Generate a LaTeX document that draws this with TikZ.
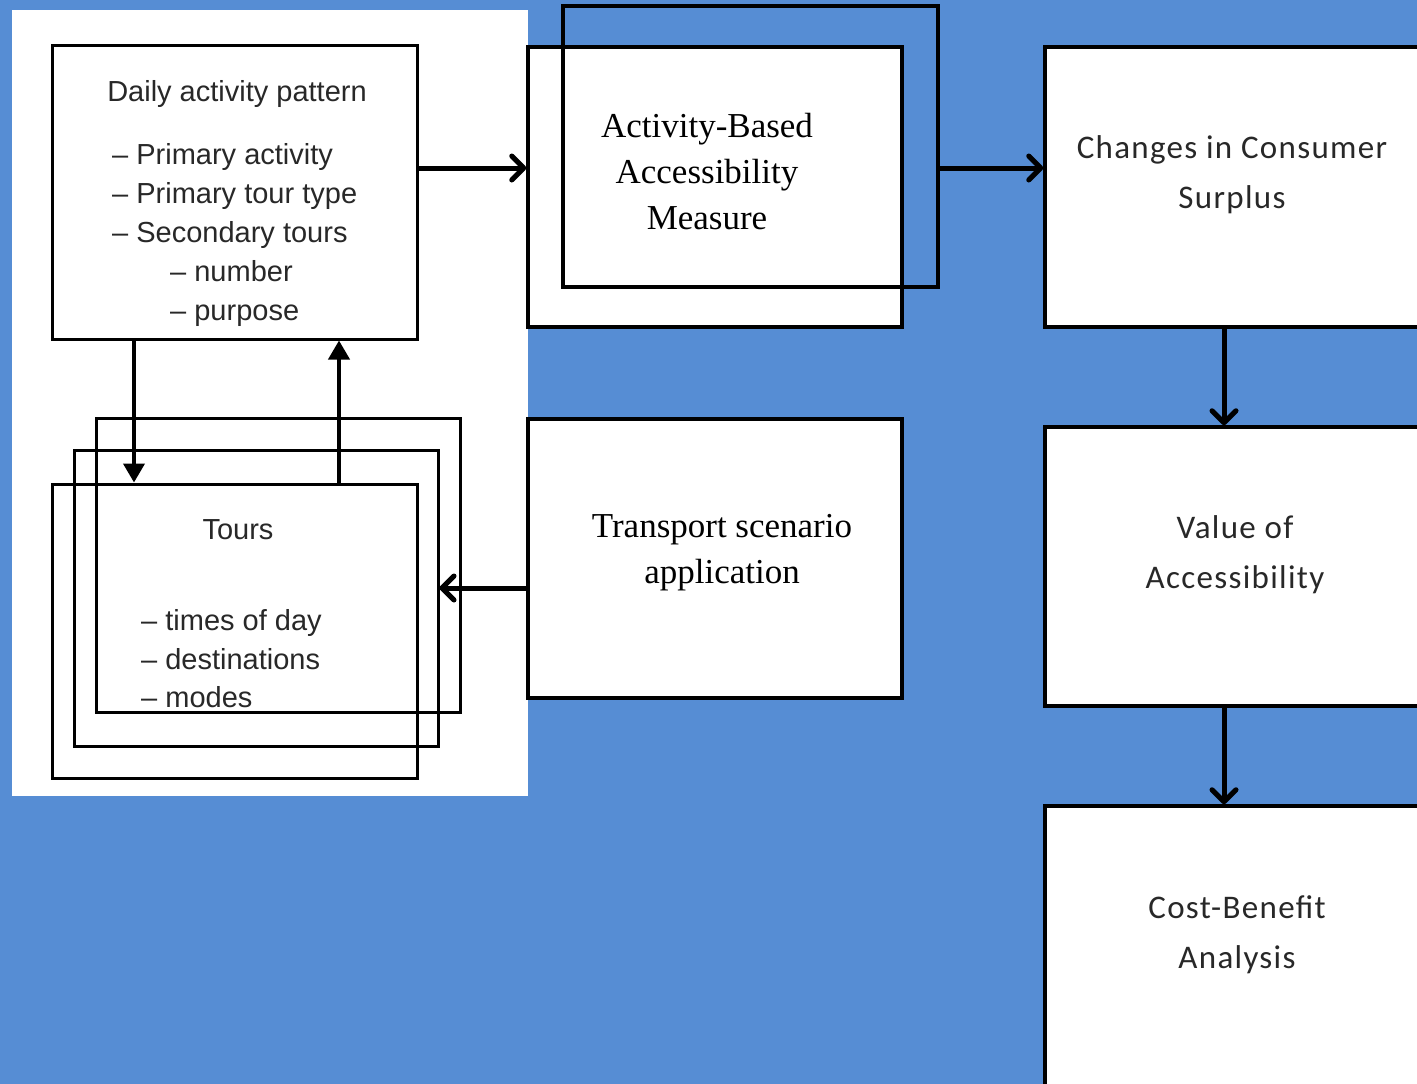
\documentclass[tikz,border=0pt]{standalone}
\usepackage{fontspec}
\setmainfont{Liberation Sans}
\newfontfamily\slabface{Liberation Serif}
\newfontfamily\calface[LetterSpace=4]{Carlito}
\usetikzlibrary{arrows.meta}
\definecolor{bgblue}{RGB}{86,141,212}
\definecolor{inkgray}{RGB}{40,40,40}
\begin{document}
\begin{tikzpicture}[x=1pt,y=-1pt,
  box/.style={draw=black, line width=3.5pt, fill=white, rectangle, inner sep=0pt},
  frame/.style={draw=black, line width=3.5pt, rectangle, inner sep=0pt},
  thinbox/.style={draw=black, line width=3pt, rectangle, inner sep=0pt},
  flow/.style={line width=5pt, -{Straight Barb[length=12pt,width=24pt,line width=5pt,round]}},
  loopflow/.style={line width=4pt, -{Triangle[length=19pt,width=21pt]}},
  sanstxt/.style={font=\fontsize{29}{39}\selectfont, text=inkgray, inner sep=0pt},
  slabtxt/.style={font=\slabface\fontsize{35}{46}\selectfont, align=center, text=black, inner sep=0pt},
  caltxt/.style={font=\calface\fontsize{33}{50}\selectfont, align=center, text=inkgray, inner sep=0pt}
]
\useasboundingbox (0,0) rectangle (1417,1084);
\clip (0,0) rectangle (1417,1084);
\fill[bgblue] (0,0) rectangle (1417,1084);

% white panel behind the activity pattern model
\fill[white] (12,10) rectangle (528,796);

% daily activity pattern
\node[thinbox, fill=white, minimum width=365pt, minimum height=294pt] (daily) at (234.5,192) {};
\node[sanstxt, anchor=base] (dtitle) at (237,101) {Daily activity pattern};
\node[sanstxt, anchor=base west] (d1) at (112,164) {-- Primary activity};
\node[sanstxt, anchor=base west] (d2) at (112,203) {-- Primary tour type};
\node[sanstxt, anchor=base west] (d3) at (112,242) {-- Secondary tours};
\node[sanstxt, anchor=base west] (d4) at (170,281) {-- number};
\node[sanstxt, anchor=base west] (d5) at (170,320) {-- purpose};

% stacked tour boxes
\node[thinbox, minimum width=364pt, minimum height=294pt] (tback) at (278,565) {};
\node[thinbox, minimum width=364pt, minimum height=296pt] (tmid) at (256,598) {};
\node[thinbox, minimum width=365pt, minimum height=294pt] (tfront) at (234.5,631) {};
\node[sanstxt, anchor=base] (ttitle) at (238,539) {Tours};
\node[sanstxt, anchor=base west] (t1) at (141,630) {-- times of day};
\node[sanstxt, anchor=base west] (t2) at (141,669) {-- destinations};
\node[sanstxt, anchor=base west] (t3) at (141,707) {-- modes};

% accessibility measure
\node[box, minimum width=374pt, minimum height=280pt] (aba) at (715,187) {};
\node[frame, minimum width=375pt, minimum height=281pt] (ababack) at (750.5,146.5) {};
\node[slabtxt] (abatxt) at (707,172) {Activity-Based\\Accessibility\\Measure};

% transport scenario
\node[box, minimum width=374pt, minimum height=279pt] (trans) at (715,558.5) {};
\node[slabtxt] (transtxt) at (722,553) {Transport scenario\\application};

% right-hand column
\node[box, minimum width=395pt, minimum height=280pt] (chg) at (1242.5,187) {};
\node[caltxt] (chgtxt) at (1232,175) {Changes in Consumer\\Surplus};
\node[box, minimum width=395pt, minimum height=279pt] (val) at (1242.5,566.5) {};
\node[caltxt] (valtxt) at (1235,555) {Value of\\Accessibility};
\node[box, minimum width=395pt, minimum height=320pt] (cba) at (1242.5,966) {};
\node[caltxt] (cbatxt) at (1237,935) {Cost-Benefit\\Analysis};

% connectors
\coordinate (dn) at ([xshift=-100.5pt]daily.south);
\coordinate (up) at ([xshift=104.5pt]daily.south);
\draw[loopflow] (dn) -- (dn |- tfront.north);
\draw[loopflow] (up |- tfront.north) -- (up);

\coordinate (da) at ([yshift=24pt]daily.east);
\draw[flow] (da) -- (da -| aba.west);

\coordinate (ab) at ([yshift=-21.5pt]ababack.east);
\draw[flow] (ab) -- (ab -| chg.west);

\coordinate (ts) at ([yshift=-29.5pt]trans.west);
\draw[flow] (ts) -- (ts -| tmid.east);

\coordinate (cv) at ([xshift=-18.5pt]chg.south);
\draw[flow] (cv) -- (cv |- val.north);
\coordinate (vc) at ([xshift=-18.5pt]val.south);
\draw[flow] (vc) -- (vc |- cba.north);
\end{tikzpicture}
\end{document}
